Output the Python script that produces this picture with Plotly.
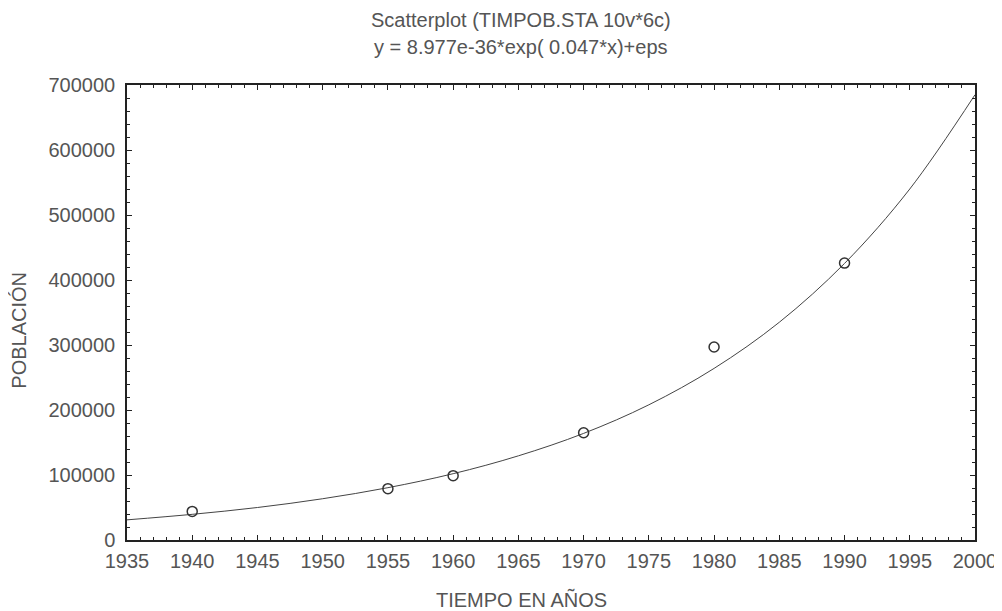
import plotly.graph_objects as go

years = [1940, 1955, 1960, 1970, 1980, 1990]
poblacion = [44000, 79000, 99000, 165000, 297000, 426000]

# Fitted curve, values every 5 years
curve_years = [1935, 1940, 1945, 1950, 1955, 1960, 1965, 1970, 1975, 1980, 1985, 1990, 1995, 2000]
curve_vals = [31000, 39500, 50000, 63500, 80500, 102000, 129500, 164000, 208000, 264000, 335000, 425500, 540000, 685000]

x_ticks = list(range(1935, 2001, 5))
y_ticks = list(range(0, 700001, 100000))

title1 = "Scatterplot (TIMPOB.STA 10v*6c)"
title2 = "y = 8.977e-36*exp( 0.047*x)+eps"
x_title = "TIEMPO EN AÑOS"
y_title = "POBLACIÓN"

font_family = "Liberation Sans, Arial, sans-serif"
txt_col = "#555555"

fig = go.Figure()
fig.add_trace(go.Scatter(x=curve_years, y=curve_vals, mode="lines",
                         line=dict(color="#444444", width=1, shape="spline", smoothing=1.0),
                         showlegend=False, hoverinfo="skip"))
fig.add_trace(go.Scatter(x=years, y=poblacion, mode="markers",
                         marker=dict(symbol="circle-open", size=10, color="#333333", line=dict(width=1.5)),
                         showlegend=False))

axis_common = dict(showline=True, linecolor="#222222", linewidth=1.5, mirror="allticks",
                   ticks="inside", ticklen=5, tickcolor="#222222", showgrid=False, zeroline=False,
                   automargin=False,
                   tickfont=dict(family=font_family, size=20, color=txt_col))

fig.update_xaxes(range=[1935, 2000], tickvals=x_ticks, ticktext=[str(v) for v in x_ticks],
                 minor=dict(ticks="inside", ticklen=3, dtick=1, tickcolor="#222222"),
                 ticklabelstandoff=2, **axis_common)
fig.update_yaxes(range=[0, 700000], tickvals=y_ticks, ticktext=[str(v) for v in y_ticks],
                 minor=dict(ticks="inside", ticklen=3, dtick=20000, tickcolor="#222222"),
                 ticklabelstandoff=6, **axis_common)

fig.update_layout(
    width=994, height=603,
    margin=dict(l=119, r=27, t=77, b=71),
    paper_bgcolor="white", plot_bgcolor="white",
    annotations=[
        dict(text=title1, x=0.465, y=1, xref="paper", yref="paper", xanchor="center", yanchor="middle",
             yshift=65, showarrow=False, font=dict(family=font_family, size=20, color=txt_col)),
        dict(text=title2, x=0.465, y=1, xref="paper", yref="paper", xanchor="center", yanchor="middle",
             yshift=38, showarrow=False, font=dict(family=font_family, size=20, color=txt_col)),
        dict(text=x_title, x=0.465, y=0, xref="paper", yref="paper", xanchor="center", yanchor="middle",
             yshift=-59, showarrow=False, font=dict(family=font_family, size=20, color=txt_col)),
        dict(text=y_title, x=0, y=0.46, xref="paper", yref="paper", xanchor="center", yanchor="middle",
             xshift=-108, textangle=-90, showarrow=False, font=dict(family=font_family, size=20, color=txt_col)),
    ],
)

fig.write_html("out.html")
